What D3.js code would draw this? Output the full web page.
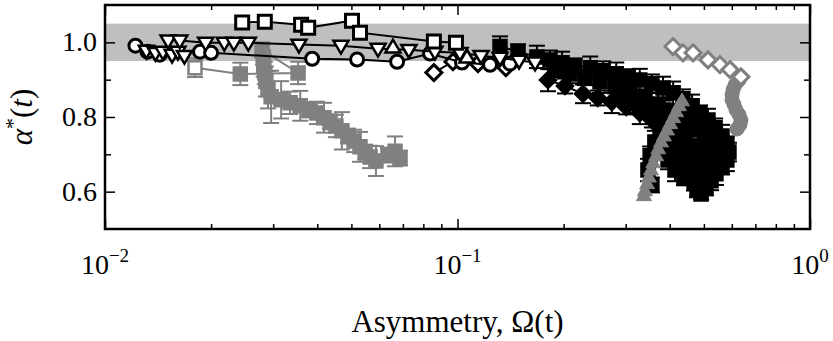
<!DOCTYPE html>
<html>
<head>
<meta charset="utf-8">
<script src="https://cdn.jsdelivr.net/npm/d3@7"></script>
<style>
  body { margin: 0; background: #fff; }
  text { font-family: "Liberation Serif", "Times New Roman", serif; fill: #000; }
</style>
</head>
<body>
<div id="chart"></div>
<script>
// ---- data: [asymmetry, alpha*] ----
var openSquares = [[0.0245,1.053],[0.0284,1.055],[0.036,1.047],[0.0377,1.039],[0.0502,1.058],[0.0529,1.026],[0.0857,1.002],[0.099,0.999]];
var downTriangles = [[0.0151,1.005],[0.0163,1.005],[0.0193,0.999],[0.0218,0.999],[0.0232,0.999],[0.0255,0.999],[0.0355,0.994],[0.0467,0.991],[0.0595,0.983],[0.0728,0.980],[0.0863,0.975],[0.1016,0.972],[0.1166,0.964],[0.132,0.959],[0.1495,0.951],[0.166,0.946]];
var downTriangles2 = [[0.0131,0.978],[0.0139,0.972],[0.0146,0.975],[0.0155,0.967],[0.0161,0.975],[0.0168,0.964]];
var upTriangles = [[0.0656,0.986],[0.1064,0.959]];
var openCircles = [[0.0122,0.991],[0.0132,0.975],[0.0143,0.967],[0.0186,0.975],[0.020,0.972],[0.0387,0.956],[0.0519,0.954],[0.0674,0.948],[0.0836,0.970],[0.103,0.946],[0.1237,0.940],[0.1409,0.943]];
var openDiamonds = [[0.0857,0.919],[0.0971,0.948],[0.1143,0.943],[0.1372,0.932]];

var blackSquares = [[0.132,0.989],[0.1485,0.975],[0.168,0.961],[0.183,0.953],[0.198,0.945],[0.215,0.937],[0.238,0.932],[0.259,0.924],[0.282,0.916],[0.305,0.908],[0.329,0.899],[0.356,0.889],[0.383,0.878],[0.409,0.865],[0.436,0.849],[0.463,0.830],[0.4875,0.811],[0.5135,0.792],[0.538,0.771],[0.563,0.749],[0.581,0.728],[0.589,0.706],[0.581,0.685],[0.563,0.666],[0.541,0.648],[0.524,0.629],[0.507,0.610],[0.491,0.594]];
var blackSquaresErr = [0.027,0.02,0.03,0.025,0.03,0.02,0.03,0.025,0.03,0.02,0.03,0.025,0.03,0.03,0.025,0.03,0.02,0.03,0.025,0.03,0.02,0.025,0.03,0.02,0.03,0.025,0.02,0.015];
var blackCloud = [[0.457,0.787],[0.481,0.765],[0.504,0.739],[0.527,0.712],[0.538,0.685],[0.5135,0.6635],[0.4875,0.643],[0.469,0.623],[0.428,0.776],[0.442,0.749],[0.457,0.7225],[0.478,0.696],[0.494,0.669],[0.457,0.658],[0.4335,0.685],[0.417,0.712],[0.406,0.739],[0.388,0.712],[0.3956,0.685],[0.414,0.658],[0.439,0.637],[0.3755,0.765],[0.363,0.733],[0.352,0.696],[0.347,0.658],[0.356,0.618],[0.478,0.605],[0.385,0.819],[0.406,0.798],
    [0.5555,0.725],[0.563,0.698],[0.548,0.672],[0.504,0.645],[0.520,0.685],[0.4875,0.712],[0.466,0.685],[0.442,0.712],[0.422,0.739],[0.4875,0.618],[0.507,0.626],[0.527,0.739],[0.504,0.771],[0.469,0.798]];
var blackCloudErr = [0.02,0.025,0.02,0.03,0.02,0.025,0.03,0.02,0.025,0.02,0.03,0.02,0.025,0.03,0.02,0.025,0.03,0.02,0.025,0.03,0.02,0.025,0.03,0.025,0.03,0.02,0.02,0.025,0.02,
    0.02,0.025,0.02,0.02,0.02,0.02,0.02,0.02,0.02,0.02,0.02,0.02,0.02,0.025];
var blackBand = [[0.189,0.927],[0.2085,0.9155],[0.230,0.9054],[0.2537,0.8946],[0.2798,0.8834],[0.3086,0.870],[0.3403,0.854],[0.3706,0.835],[0.3956,0.8137],[0.4222,0.7976],[0.289,0.860],[0.3187,0.8405],[0.3517,0.819],[0.3755,0.7922]];
var blackBandErr = [0.02,0.025,0.02,0.03,0.02,0.025,0.02,0.03,0.02,0.025,0.02,0.03,0.02,0.025];
var blackDiamonds = [[0.1806,0.899],[0.2018,0.883],[0.227,0.862],[0.250,0.851],[0.274,0.8405],[0.301,0.827],[0.329,0.811],[0.356,0.792],[0.380,0.7735]];
var blackDiamondsErr = [0.03,0.02,0.025,0.02,0.03,0.02,0.03,0.02,0.025];

var graySquares = [[0.018,0.932],[0.0242,0.9155],[0.0353,0.918],[0.0279,0.980],[0.0281,0.959],[0.0282,0.938],[0.0284,0.918],[0.0286,0.895],[0.029,0.873],[0.0296,0.854],[0.0316,0.846],[0.0335,0.838],[0.0358,0.830],[0.0379,0.819],[0.0399,0.811],[0.0418,0.798],[0.0435,0.787],[0.0452,0.776],[0.047,0.763],[0.0489,0.749],[0.0509,0.736],[0.0529,0.720],[0.0547,0.706],[0.0565,0.693],[0.0587,0.682],[0.0635,0.698],[0.0665,0.708],[0.0687,0.690]];
var graySquaresErr = [0.025,0.03,0.03,0.02,0.02,0.03,0.03,0.04,0.05,0.07,0.05,0.03,0.04,0.02,0.03,0.04,0.02,0.03,0.05,0.02,0.03,0.04,0.02,0.03,0.04,0.02,0.04,0.02];
var grayTriangles = [[0.4335,0.843],[0.425,0.830],[0.417,0.814],[0.409,0.798],[0.401,0.782],[0.393,0.765],[0.385,0.749],[0.378,0.733],[0.371,0.7145],[0.366,0.696],[0.359,0.677],[0.354,0.658],[0.349,0.639],[0.345,0.621],[0.340,0.602],[0.338,0.589]];
var grayDiamonds = [[0.4087,0.9887],[0.436,0.972],[0.466,0.972],[0.5135,0.953],[0.5555,0.940],[0.593,0.927],[0.637,0.9075]];
var grayDots = [[0.629,0.899],[0.613,0.886],[0.605,0.873],[0.601,0.860],[0.601,0.846],[0.609,0.833],[0.617,0.819],[0.629,0.806],[0.637,0.792],[0.633,0.779],[0.621,0.768]];

var bandRange = [0.95, 1.05];
var yMajor = [0.6, 0.8, 1.0];
var yMinor = [0.7, 0.9];
var xMajor = [0.01, 0.1, 1];
var xExp = ["\u22122", "\u22121", "0"];
var xMinor = [0.02,0.03,0.04,0.05,0.06,0.07,0.08,0.09,0.2,0.3,0.4,0.5,0.6,0.7,0.8,0.9];

// ---- layout ----
var margin = { top: 5, right: 23, bottom: 112, left: 105 },
    w = 833 - margin.left - margin.right,
    h = 341 - margin.top - margin.bottom;

var svg = d3.select('#chart')
    .append('svg')
    .attr('width', 833)
    .attr('height', 341)
    .append('g')
    .attr('transform', `translate(${margin.left},${margin.top})`);

var x = d3.scaleLog().domain([0.01, 1]).range([0, w]);
var y = d3.scaleLinear().domain([0.5, 1.1]).range([h, 0]);

var gray = '#808080';

// shaded band
svg.append('rect')
    .attr('x', 0).attr('width', w)
    .attr('y', y(bandRange[1]))
    .attr('height', y(bandRange[0]) - y(bandRange[1]))
    .attr('fill', '#bfbfbf');

// marker shapes
function shape(kind, s) {
    if (kind == 'square') return `M${-s},${-s}h${2 * s}v${2 * s}h${-2 * s}Z`;
    if (kind == 'diamond') return `M0,${-s}L${s},0L0,${s}L${-s},0Z`;
    if (kind == 'down') return `M${-s},${-s * 0.65}L${s},${-s * 0.65}L0,${s * 1.05}Z`;
    if (kind == 'up') return `M${-s},${s * 0.65}L${s},${s * 0.65}L0,${-s * 1.05}Z`;
    if (kind == 'circle') return d3.arc()({ innerRadius: 0, outerRadius: s, startAngle: 0, endAngle: 2 * Math.PI });
}

function drawSeries(data, o) {
    var g = svg.append('g');
    if (o.line) {
        g.append('path')
            .datum(data)
            .attr('fill', 'none')
            .attr('stroke', o.line)
            .attr('stroke-width', 2)
            .attr('d', d3.line().x(d => x(d[0])).y(d => y(d[1])));
    }
    if (o.err) {
        var eb = g.append('g').attr('stroke', o.errColor || o.stroke).attr('stroke-width', 2);
        data.forEach(function (d, i) {
            var e = o.err[i], cx = x(d[0]);
            eb.append('line').attr('x1', cx).attr('x2', cx).attr('y1', y(d[1] - e)).attr('y2', y(d[1] + e));
            [d[1] - e, d[1] + e].forEach(function (v) {
                eb.append('line').attr('x1', cx - 8).attr('x2', cx + 8).attr('y1', y(v)).attr('y2', y(v));
            });
        });
    }
    g.selectAll('path.m')
        .data(data)
        .enter().append('path')
        .attr('class', 'm')
        .attr('transform', d => `translate(${x(d[0])},${y(d[1])})`)
        .attr('d', (d, i) => shape(o.shape, o.size))
        .attr('fill', (d, i) => (o.firstFill && i == 0) ? o.firstFill : o.fill)
        .attr('stroke', o.stroke)
        .attr('stroke-width', o.sw || 2.5);
}

drawSeries(graySquares, { shape: 'square', size: 6.5, fill: gray, firstFill: '#fff', stroke: gray, line: gray, err: graySquaresErr });
drawSeries(blackSquares, { shape: 'square', size: 6.5, fill: '#000', stroke: '#000', line: '#000', err: blackSquaresErr });
drawSeries(blackBand, { shape: 'square', size: 6.5, fill: '#000', stroke: '#000', err: blackBandErr });
drawSeries(blackCloud, { shape: 'square', size: 6.5, fill: '#000', stroke: '#000', err: blackCloudErr });
drawSeries(blackDiamonds, { shape: 'diamond', size: 8, fill: '#000', stroke: '#000', line: '#000', err: blackDiamondsErr });
drawSeries(grayTriangles, { shape: 'up', size: 7.5, fill: gray, stroke: gray, sw: 1 });
drawSeries(grayDots, { shape: 'circle', size: 7, fill: gray, stroke: gray, sw: 1 });
drawSeries(grayDiamonds, { shape: 'diamond', size: 8, fill: '#fff', stroke: gray, line: gray, sw: 3 });
drawSeries(openDiamonds, { shape: 'diamond', size: 8, fill: '#fff', stroke: '#000', line: '#000', sw: 3 });
drawSeries(openCircles, { shape: 'circle', size: 6.5, fill: '#fff', stroke: '#000', line: '#000', sw: 3 });
drawSeries(downTriangles2, { shape: 'down', size: 7.5, fill: '#fff', stroke: '#000', line: '#000', sw: 2.5 });
drawSeries(downTriangles, { shape: 'down', size: 7.5, fill: '#fff', stroke: '#000', line: '#000', sw: 2.5 });
drawSeries(upTriangles, { shape: 'up', size: 7.5, fill: '#fff', stroke: '#000', sw: 2.5 });
drawSeries(openSquares, { shape: 'square', size: 6.5, fill: '#fff', stroke: '#000', line: '#000', sw: 3 });

// ---- axes: inward ticks on all four sides ----
function ticks(axis, vals, len, tr) {
    svg.append('g')
        .attr('transform', tr)
        .call(axis.tickValues(vals).tickSize(len).tickFormat(''))
        .call(g => g.select('.domain').remove())
        .selectAll('line').attr('stroke', '#000').attr('stroke-width', 1.5);
}
ticks(d3.axisBottom(x), xMajor, -10, `translate(0,${h})`);
ticks(d3.axisBottom(x), xMinor, -5, `translate(0,${h})`);
ticks(d3.axisTop(x), xMajor, -10, 'translate(0,0)');
ticks(d3.axisTop(x), xMinor, -5, 'translate(0,0)');
ticks(d3.axisLeft(y), yMajor, -10, 'translate(0,0)');
ticks(d3.axisLeft(y), yMinor, -6, 'translate(0,0)');
ticks(d3.axisRight(y), yMajor, -10, `translate(${w},0)`);
ticks(d3.axisRight(y), yMinor, -6, `translate(${w},0)`);

svg.append('rect')
    .attr('width', w).attr('height', h)
    .attr('fill', 'none').attr('stroke', '#000').attr('stroke-width', 2.5);

// tick labels
svg.selectAll('text.ylab')
    .data(yMajor)
    .enter().append('text')
    .attr('class', 'ylab')
    .attr('x', -8)
    .attr('y', d => y(d) + 9)
    .attr('text-anchor', 'end')
    .attr('font-size', 28)
    .text(d => d.toFixed(1));

var xl = svg.selectAll('text.xlab')
    .data(xMajor)
    .enter().append('text')
    .attr('class', 'xlab')
    .attr('x', d => x(d))
    .attr('y', h + 45)
    .attr('text-anchor', 'middle')
    .attr('font-size', 28);
xl.append('tspan').text('10');
xl.append('tspan').attr('dy', -12).attr('font-size', 19).text((d, i) => xExp[i]);

// axis titles
svg.append('text')
    .attr('x', w / 2)
    .attr('y', h + 103)
    .attr('text-anchor', 'middle')
    .attr('font-size', 31)
    .text('Asymmetry, \u03A9(t)');

var yt = svg.append('text')
    .attr('transform', `translate(-73,${h / 2}) rotate(-90)`)
    .attr('text-anchor', 'middle')
    .attr('font-size', 31);
yt.append('tspan').attr('font-style', 'italic').text('\u03B1');
yt.append('tspan').attr('dy', -12).attr('font-size', 22).text('*');
yt.append('tspan').attr('dy', 12).text('(');
yt.append('tspan').attr('font-style', 'italic').text('t');
yt.append('tspan').text(')');
</script>
</body>
</html>
